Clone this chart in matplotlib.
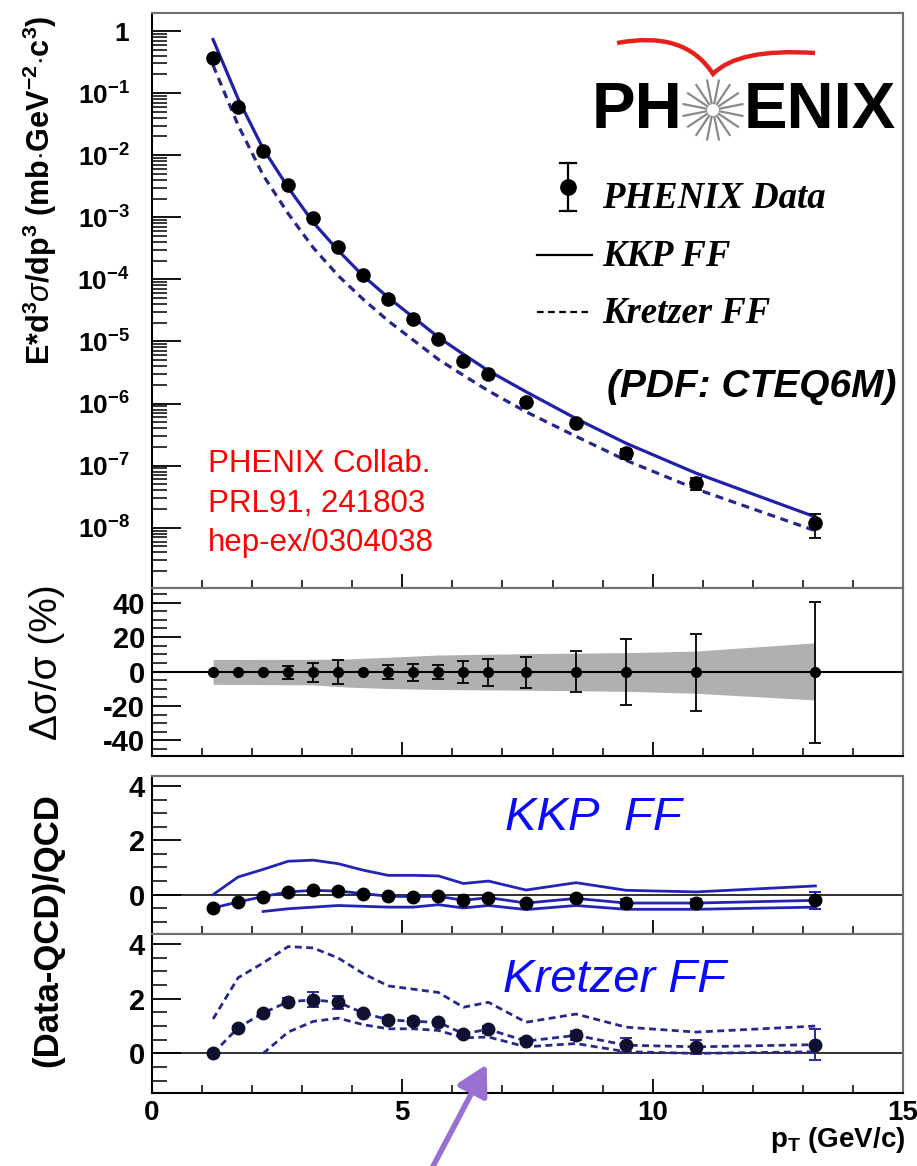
import numpy as np
import matplotlib
matplotlib.use("Agg")
import matplotlib.pyplot as plt
from matplotlib.ticker import MultipleLocator, LogLocator, NullFormatter
from matplotlib.lines import Line2D
from matplotlib.path import Path
from matplotlib.patches import PathPatch, FancyArrowPatch

# ---------------- data ----------------
pt = [1.22, 1.72, 2.22, 2.72, 3.22, 3.72, 4.22, 4.72, 5.22, 5.72,
      6.22, 6.72, 7.47, 8.47, 9.47, 10.87, 13.25]
xsec = [0.372, 0.059, 0.0118, 3.31e-3, 9.6e-4, 3.29e-4, 1.18e-4, 4.78e-5,
        2.28e-5, 1.10e-5, 4.91e-6, 3.0e-6, 1.07e-6, 4.92e-7, 1.58e-7,
        5.21e-8, 1.18e-8]
kkp_curve = [0.729, 0.0808, 0.01269, 3.01e-3, 8.28e-4, 2.91e-4, 1.135e-4,
             5.09e-5, 2.45e-5, 1.17e-5, 6.22e-6, 3.37e-6, 1.55e-6, 5.72e-7,
             2.29e-7, 7.55e-8, 1.49e-8]
kretzer_curve = [0.28, 0.0304, 4.76e-3, 1.145e-3, 3.24e-4, 1.146e-4, 4.76e-5,
                 2.14e-5, 1.05e-5, 5.14e-6, 2.85e-6, 1.6e-6, 7.38e-7, 2.96e-7,
                 1.215e-7, 4.2e-8, 8.94e-9]

# relative errors (%) shown in the middle panel
err_hi_pct = [0, 0, 0, 3.3, 5.2, 6.6, 0, 4.1, 4.6, 4.1, 6.0, 7.3, 8.7, 11.8, 19.1, 21.8, 40.4]
err_lo_pct = [0, 0, 0, 4.1, 6.2, 7.5, 0, 4.6, 5.2, 4.4, 6.8, 8.3, 9.5, 12.0, 19.5, 22.6, 41.4]
band_x = [1.22, 3.2, 3.9, 4.7, 5.7, 7.5, 9.5, 10.87, 13.25]
band_hi = [7.0, 7.1, 7.3, 8.3, 9.6, 10.4, 11.0, 11.9, 16.7]
band_lo = [-7.4, -7.7, -9.0, -9.8, -10.4, -10.8, -11.5, -12.6, -16.5]

# (Data-QCD)/QCD, KKP
kkp_ratio = [-0.49, -0.27, -0.07, 0.10, 0.16, 0.13, 0.04, -0.06, -0.07, -0.06,
             -0.21, -0.11, -0.31, -0.14, -0.31, -0.31, -0.21]
kkp_hi = [0.0, 0.65, 0.93, 1.23, 1.27, 1.14, 0.90, 0.71, 0.71, 0.69,
          0.41, 0.50, 0.17, 0.44, 0.16, 0.10, 0.32]
kkp_lo_pt = pt[2:]
kkp_lo = [-0.62, -0.52, -0.46, -0.40, -0.43, -0.46, -0.46, -0.37, -0.49,
          -0.40, -0.55, -0.40, -0.54, -0.54, -0.46]

# (Data-QCD)/QCD, Kretzer
kre_ratio = [0.0, 0.94, 1.48, 1.89, 1.96, 1.87, 1.48, 1.23, 1.17, 1.14,
             0.72, 0.88, 0.45, 0.66, 0.30, 0.24, 0.32]
kre_hi = [1.26, 2.77, 3.31, 3.91, 3.86, 3.49, 2.92, 2.47, 2.35, 2.23,
          1.69, 1.87, 1.14, 1.44, 0.96, 0.78, 1.0]
kre_lo_pt = pt[2:]
kre_lo = [0.0, 0.78, 1.17, 1.29, 1.05, 0.90, 0.90, 0.84, 0.57, 0.60,
          0.24, 0.36, 0.06, 0.0, 0.06]
kre_err = [0.04, 0.05, 0.08, 0.12, 0.28, 0.24, 0.08, 0.10, 0.11, 0.10,
           0.10, 0.12, 0.12, 0.16, 0.25, 0.26, 0.58]

decade_ticks = [1, 1e-1, 1e-2, 1e-3, 1e-4, 1e-5, 1e-6, 1e-7, 1e-8]
decade_labels = [r"$\mathbf{1}$"] + [r"$\mathbf{10^{-%d}}$" % k for k in range(1, 9)]
pct_ticks = [-40, -20, 0, 20, 40]
pct_labels = ["-40", "-20", "0", "20", "40"]
ratio_ticks = [0, 2, 4]
ratio_labels = ["0", "2", "4"]

# ---------------- style ----------------
plt.rcParams['font.family'] = ['Liberation Sans', 'DejaVu Sans']
plt.rcParams['mathtext.fontset'] = 'custom'
plt.rcParams['mathtext.rm'] = 'Liberation Sans'
plt.rcParams['mathtext.it'] = 'Liberation Sans:italic'
plt.rcParams['mathtext.bf'] = 'Liberation Sans:bold'
plt.rcParams['mathtext.sf'] = 'Liberation Sans'

W, H = 917, 1166
fig = plt.figure(figsize=(W / 100, H / 100), dpi=100)


def fx(x):
    return x / W


def fy(y):
    return 1 - y / H


def rect(l, t, r, b):
    return [fx(l), fy(b), (r - l) / W, (b - t) / H]


def fline(xs, ys, **kw):
    fig.add_artist(Line2D([fx(x) for x in xs], [fy(y) for y in ys],
                          transform=fig.transFigure, **kw))


ax1 = fig.add_axes(rect(152, 13, 903, 588))
ax2 = fig.add_axes(rect(152, 588, 903, 756))
ax3 = fig.add_axes(rect(152, 776, 903, 934))
ax4 = fig.add_axes(rect(152, 934, 903, 1093))


def style(ax):
    for s in ['left', 'bottom']:
        ax.spines[s].set_color('black')
        ax.spines[s].set_linewidth(1.5)
    for s in ['top', 'right']:
        ax.spines[s].set_color('#707070')
        ax.spines[s].set_linewidth(1.5)
    ax.set_xlim(0, 15)
    ax.xaxis.set_major_locator(MultipleLocator(5))
    ax.xaxis.set_minor_locator(MultipleLocator(1))
    ax.tick_params(axis='x', which='major', direction='in', length=10, width=1.3,
                   top=False, labelbottom=False)
    ax.tick_params(axis='x', which='minor', direction='in', length=6, width=1.1, top=False)
    ax.tick_params(axis='y', which='major', direction='in', length=21, width=1.3, right=False)
    ax.tick_params(axis='y', which='minor', direction='in', length=11, width=1.1, right=False)


for a in (ax1, ax2, ax3, ax4):
    style(a)

# ---------------- top panel ----------------
ax1.set_yscale('log')
ax1.set_ylim(1.07e-9, 1.95)
ax1.set_yticks(decade_ticks)
ax1.set_yticklabels(decade_labels, fontsize=19)
ax1.yaxis.set_minor_locator(LogLocator(base=10, subs=np.arange(2, 10), numticks=20))
ax1.yaxis.set_minor_formatter(NullFormatter())
ax1.tick_params(axis='y', which='major', pad=16)

ax1.plot(pt, kkp_curve, '-', color='#2020a8', lw=2.3, zorder=2)
ax1.plot(pt, kretzer_curve, '--', color='#25258a', lw=2.3, dashes=(2.5, 1.8), zorder=2)
e_hi = [v * p / 100 for v, p in zip(xsec, err_hi_pct)]
e_lo = [v * p / 100 for v, p in zip(xsec, err_lo_pct)]
ax1.errorbar(pt, xsec, yerr=[e_lo, e_hi], fmt='o', color='black', ms=9.5,
             elinewidth=1.3, capsize=4.5, capthick=1.3, zorder=3)

# ---------------- middle panel ----------------
ax2.set_ylim(-49, 48.5)
ax2.set_yticks(pct_ticks)
ax2.set_yticklabels(pct_labels, fontsize=21, fontweight='bold')
ax2.yaxis.set_minor_locator(MultipleLocator(5))
ax2.tick_params(axis='y', which='major', pad=5)
ax2.fill_between(band_x, band_lo, band_hi, color='#b0b0b0', lw=0, zorder=1)
ax2.axhline(0, color='black', lw=1.5, zorder=2)
zero = [0.0] * len(pt)
sel = [i for i in range(len(pt)) if err_hi_pct[i] > 0]
ax2.errorbar([pt[i] for i in sel], [0.0] * len(sel),
             yerr=[[err_lo_pct[i] for i in sel], [err_hi_pct[i] for i in sel]],
             fmt='none', ecolor='black', elinewidth=1.3, capsize=4.5, capthick=1.3, zorder=3)
ax2.plot(pt, zero, 'o', color='black', ms=7, zorder=4)

# ---------------- ratio panels ----------------
for a in (ax3, ax4):
    a.set_ylim(-1.45, 4.37)
    a.set_yticks(ratio_ticks)
    a.set_yticklabels(ratio_labels, fontsize=21, fontweight='bold')
    a.yaxis.set_minor_locator(MultipleLocator(0.5))
    a.tick_params(axis='y', which='major', pad=5)
    a.axhline(0, color='#303030', lw=1.4, zorder=1)

kcol = '#2424b4'
ax3.plot(pt, kkp_hi, '-', color=kcol, lw=2.0, zorder=2)
ax3.plot(kkp_lo_pt, kkp_lo, '-', color=kcol, lw=2.0, zorder=2)
ax3.plot(pt, kkp_ratio, '-', color=kcol, lw=2.0, zorder=2)
k_e_hi = [(1 + r) * p / 100 for r, p in zip(kkp_ratio, err_hi_pct)]
k_e_lo = [(1 + r) * p / 100 for r, p in zip(kkp_ratio, err_lo_pct)]
ax3.errorbar(pt, kkp_ratio, yerr=[k_e_lo, k_e_hi], fmt='o', color='black', ms=9,
             ecolor=kcol, elinewidth=1.4, capsize=4.5, capthick=1.4, zorder=3)
fig.text(fx(505), fy(818), "KKP  FF", color='#0a0aff', fontsize=34, style='italic',
         ha='left', va='center')

rcol = '#28288c'
ax4.plot(pt, kre_hi, '--', color=rcol, lw=2.0, dashes=(2.5, 1.6), zorder=2)
ax4.plot(kre_lo_pt, kre_lo, '--', color=rcol, lw=2.0, dashes=(2.5, 1.6), zorder=2)
ax4.plot(pt, kre_ratio, '--', color=rcol, lw=2.0, dashes=(2.5, 1.6), zorder=2)
ax4.errorbar(pt, kre_ratio, yerr=kre_err, fmt='o', color='#101030', ms=9,
             ecolor='#2a2aa0', elinewidth=1.4, capsize=4.5, capthick=1.4, zorder=3)
fig.text(fx(503), fy(980), "Kretzer FF", color='#0a0aff', fontsize=34, style='italic',
         ha='left', va='center')

ax4.tick_params(axis='x', which='major', labelbottom=True, labelsize=20, pad=5)
for lab in ax4.get_xticklabels():
    lab.set_fontweight('bold')

# ---------------- axis titles ----------------
fig.text(fx(40), fy(190),
         r"$\mathbf{E{*}d^{3}}\sigma\mathbf{/dp^{3}\ (mb{\cdot}GeV^{-2}{\cdot}c^{3})}$",
         rotation=90, fontsize=22, ha='center', va='center')
fig.text(fx(47), fy(662), "Δσ/σ (%)", rotation=90, fontsize=28, ha='center', va='center')
fig.text(fx(48), fy(930), "(Data-QCD)/QCD", rotation=90, fontsize=25, fontweight='bold',
         ha='center', va='center')
fig.text(fx(905), fy(1140), r"$\mathbf{p_{T}}$ (GeV/c)", ha='right', va='center',
         fontsize=20, fontweight='bold')

# ---------------- legend ----------------
fline([568, 568], [163, 211], color='black', lw=1.6)
fline([560, 576], [163, 163], color='black', lw=1.6)
fline([560, 576], [211, 211], color='black', lw=1.6)
fline([568], [187], marker='o', ms=11, color='black', linestyle='none')
fig.text(fx(602), fy(198), "PHENIX Data", family='Liberation Serif', style='italic',
         fontweight='bold', fontsize=26.5, ha='left', va='center')
fline([537, 592], [255, 255], color='black', lw=1.6)
fig.text(fx(602), fy(256), "KKP FF", family='Liberation Serif', style='italic',
         fontweight='bold', fontsize=26.5, ha='left', va='center')
fline([537, 592], [312, 312], color='black', lw=1.6, dashes=(3, 2))
fig.text(fx(602), fy(313), "Kretzer FF", family='Liberation Serif', style='italic',
         fontweight='bold', fontsize=26.5, ha='left', va='center')
fig.text(fx(607), fy(387), "(PDF: CTEQ6M)", style='italic', fontweight='bold',
         fontsize=28, ha='left', va='center')

# ---------------- PHENIX logo ----------------
fig.text(fx(682), fy(111), "PH", fontweight='bold', fontsize=47, ha='right', va='center')
fig.text(fx(744), fy(111), "ENIX", fontweight='bold', fontsize=47, ha='left', va='center')
cx, cy = 713, 110
for k in range(16):
    ang = 2 * np.pi * k / 16 + np.pi / 16
    fline([cx + 7 * np.cos(ang), cx + 30 * np.cos(ang)],
          [cy + 7 * np.sin(ang), cy + 30 * np.sin(ang)], color='#8a8a8a', lw=1.6)
arc = Path([(fx(617), fy(43)), (fx(685), fy(30)), (fx(713), fy(74)),
            (fx(738), fy(48)), (fx(815), fy(53))],
           [Path.MOVETO, Path.CURVE3, Path.CURVE3, Path.CURVE3, Path.CURVE3])
fig.add_artist(PathPatch(arc, transform=fig.transFigure, fill=False,
                         edgecolor='#e8201c', lw=3.2))

# ---------------- reference text ----------------
for i, t in enumerate(["PHENIX Collab.", "PRL91, 241803", "hep-ex/0304038"]):
    fig.text(fx(208), fy(464 + 39.5 * i), t, color='#ff0000', fontsize=22.5,
             ha='left', va='center')

# ---------------- arrow ----------------
fig.add_artist(FancyArrowPatch((fx(430), fy(1172)), (fx(488), fy(1062)),
                               transform=fig.transFigure,
                               arrowstyle='-|>,head_length=0.9,head_width=0.5',
                               mutation_scale=20, color='#9a6fd2', lw=4.0))

fig.savefig('out.png', dpi=100)
